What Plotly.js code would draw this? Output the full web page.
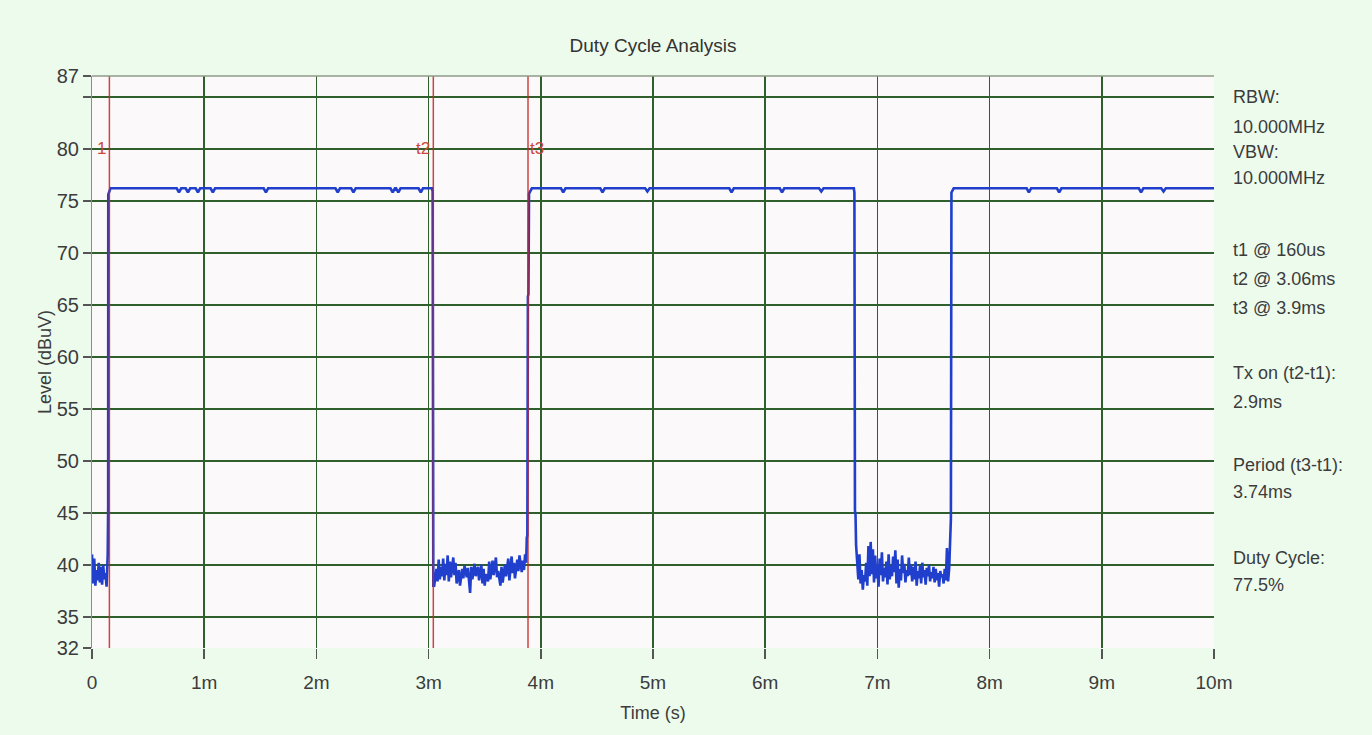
<!DOCTYPE html>
<html><head><meta charset="utf-8">
<script src="https://cdn.plot.ly/plotly-3.0.1.min.js"></script>
<style>html,body{margin:0;padding:0;background:#edfbed;}#chart{width:1372px;height:735px;}</style>
</head><body><div id="chart"></div>
<script>
// ---- Data (time in ms, level in dBuV) ----
const noise1Time  = [0, 0.01, 0.02, 0.03, 0.04, 0.05, 0.06, 0.07, 0.08, 0.09, 0.10, 0.11, 0.12, 0.13, 0.14];
const noise1Level = [41.0, 38.2, 40.6, 38.0, 39.5, 38.5, 40.2, 38.3, 39.8, 38.1, 40.0, 38.6, 39.2, 37.9, 41.0];

const rise1Time  = [0.142, 0.144, 0.145, 0.165];
const rise1Level = [45.5, 45.6, 75.6, 76.2];

const plateau1Time  = [0.165, 0.755, 0.775, 0.795, 0.835, 0.855, 0.875, 0.924, 0.944, 0.964, 1.057, 1.077, 1.097,
                       1.53, 1.55, 1.57, 2.17, 2.19, 2.21, 2.31, 2.33, 2.35, 2.66, 2.68, 2.70, 2.71, 2.73, 2.75,
                       2.91, 2.93, 2.95, 3.03];
const plateau1Level = [76.2, 76.2, 75.8, 76.2, 76.2, 75.8, 76.2, 76.2, 75.8, 76.2, 76.2, 75.8, 76.2,
                       76.2, 75.8, 76.2, 76.2, 75.8, 76.2, 76.2, 75.8, 76.2, 76.2, 75.8, 76.2, 76.2, 75.8, 76.2,
                       76.2, 75.8, 76.2, 76.2];

const fall1Time  = [3.036, 3.042];
const fall1Level = [75.9, 38.0];

const noise2Time  = [3.05, 3.07, 3.08, 3.09, 3.10, 3.11, 3.12, 3.13, 3.14, 3.15, 3.16, 3.17, 3.18, 3.19, 3.20, 3.22,
                     3.23, 3.24, 3.25, 3.27, 3.28, 3.30, 3.31, 3.32, 3.34, 3.35, 3.37, 3.38, 3.39, 3.41, 3.42, 3.44,
                     3.45, 3.47, 3.48, 3.49, 3.50, 3.51, 3.53, 3.54, 3.55, 3.57, 3.58, 3.60, 3.61, 3.62, 3.64, 3.65,
                     3.66, 3.68, 3.69, 3.71, 3.72, 3.74, 3.75, 3.76, 3.77, 3.79, 3.80, 3.81, 3.83, 3.84, 3.85, 3.86, 3.87];
const noise2Level = [38.0, 39.6, 38.4, 40.5, 38.6, 39.8, 38.9, 40.6, 38.5, 40.1, 39.0, 40.9, 38.4, 40.3, 38.8, 40.7,
                     39.0, 40.2, 38.2, 39.5, 38.0, 39.6, 38.7, 39.9, 38.8, 39.7, 37.3, 39.8, 38.6, 40.1, 38.9, 39.8,
                     38.5, 40.0, 38.2, 39.6, 38.0, 39.1, 38.4, 40.3, 38.6, 40.4, 39.0, 40.7, 38.8, 39.4, 38.0, 39.8,
                     38.3, 40.0, 38.9, 40.6, 38.5, 40.8, 39.2, 40.2, 38.7, 40.5, 39.4, 40.9, 39.3, 40.4, 39.5, 41.0, 40.2];

const rise2Time  = [3.875, 3.88, 3.885, 3.89, 3.895, 3.92];
const rise2Level = [42.6, 42.8, 65.8, 66.0, 75.7, 76.2];

const plateau2Time  = [3.92, 4.18, 4.20, 4.22, 4.53, 4.55, 4.57, 4.93, 4.95, 4.97, 5.68, 5.70, 5.72,
                       6.13, 6.15, 6.17, 6.48, 6.50, 6.52, 6.79];
const plateau2Level = [76.2, 76.2, 75.8, 76.2, 76.2, 75.8, 76.2, 76.2, 75.9, 76.2, 76.2, 75.8, 76.2,
                       76.2, 75.8, 76.2, 76.2, 75.9, 76.2, 76.2];

const fall2Time  = [6.795, 6.80, 6.805, 6.81];
const fall2Level = [75.8, 45.2, 44.8, 41.9];

const noise3Time  = [6.82, 6.83, 6.84, 6.85, 6.86, 6.87, 6.88, 6.89, 6.90, 6.91, 6.92, 6.93, 6.94, 6.95, 6.96, 6.97,
                     6.98, 6.99, 7.00, 7.01, 7.02, 7.03, 7.04, 7.05, 7.06, 7.07, 7.08, 7.09, 7.10, 7.11, 7.12, 7.13,
                     7.14, 7.15, 7.16, 7.17, 7.18, 7.19, 7.20, 7.21, 7.22, 7.23, 7.24, 7.25, 7.26, 7.27, 7.28, 7.29,
                     7.30, 7.31, 7.32, 7.33, 7.34, 7.35, 7.36, 7.37, 7.38, 7.39, 7.40, 7.41, 7.42, 7.43, 7.44, 7.45,
                     7.46, 7.47, 7.48, 7.49, 7.50, 7.51, 7.52, 7.53, 7.54, 7.55, 7.56, 7.57, 7.58, 7.59, 7.60, 7.61,
                     7.62, 7.63, 7.64];
const noise3Level = [40.5, 38.6, 41.0, 38.2, 39.5, 37.6, 39.0, 38.4, 40.2, 38.0, 41.8, 38.9, 42.2, 39.1, 41.5, 38.3,
                     40.9, 38.7, 39.8, 37.9, 40.6, 39.0, 41.2, 38.4, 39.7, 38.8, 40.3, 38.1, 41.0, 38.6, 39.9, 38.9,
                     40.8, 39.3, 41.4, 38.2, 40.5, 37.8, 39.6, 38.5, 40.9, 39.2, 40.1, 38.3, 39.5, 38.9, 40.7, 39.0,
                     40.0, 38.4, 39.8, 38.6, 40.3, 38.0, 39.4, 38.7, 39.9, 38.2, 40.2, 38.8, 39.5, 38.1, 39.7, 38.9,
                     40.0, 38.4, 39.3, 38.7, 39.8, 38.3, 39.6, 38.5, 39.2, 37.9, 39.4, 38.8, 39.1, 38.2, 39.6, 38.5,
                     41.6, 38.4, 39.7];

const rise3Time  = [7.645, 7.65, 7.655, 7.66, 7.68];
const rise3Level = [41.2, 44.2, 44.4, 75.8, 76.2];

const plateau3Time  = [7.68, 8.33, 8.35, 8.37, 8.60, 8.62, 8.64, 9.33, 9.35, 9.37, 9.53, 9.55, 9.57, 10.0];
const plateau3Level = [76.2, 76.2, 75.8, 76.2, 76.2, 75.8, 76.2, 76.2, 75.8, 76.2, 76.2, 75.9, 76.2, 76.2];

const markerTimes  = [0.155, 3.042, 3.886];
const markerLabels = ['1', 't2', 't3'];

const xTickVals  = [0, 1, 2, 3, 4, 5, 6, 7, 8, 9, 10];
const xTickText  = ['0', '1m', '2m', '3m', '4m', '5m', '6m', '7m', '8m', '9m', '10m'];
const xGridVals  = [1, 2, 3, 4, 5, 6, 7, 8, 9];
const yTickVals  = [32, 35, 40, 45, 50, 55, 60, 65, 70, 75, 80, 85, 87];
const yTickText  = ['32', '35', '40', '45', '50', '55', '60', '65', '70', '75', '80', '', '87'];
const yGridVals  = [35, 40, 45, 50, 55, 60, 65, 70, 75, 80, 85];
const yRange = [32, 87];
const xRange = [0, 10];

const infoLines = ['RBW:', '10.000MHz', 'VBW:', '10.000MHz', 't1 @ 160us', 't2 @ 3.06ms', 't3 @ 3.9ms',
                   'Tx on (t2-t1):', '2.9ms', 'Period (t3-t1):', '3.74ms', 'Duty Cycle:', '77.5%'];
const infoPixelY = [97, 127, 152, 178, 250, 279, 308, 373, 402, 465, 492, 558, 585];

// ---- Build ----
const time = [].concat(noise1Time, rise1Time, plateau1Time, fall1Time, noise2Time, rise2Time,
                       plateau2Time, fall2Time, noise3Time, rise3Time, plateau3Time);
const level = [].concat(noise1Level, rise1Level, plateau1Level, fall1Level, noise2Level, rise2Level,
                        plateau2Level, fall2Level, noise3Level, rise3Level, plateau3Level);

const FONT = 'Liberation Sans, Arial, sans-serif';
const TXT = '#3c3c3c';
const GRID = '#2f5f2a';

const traces = [{
  x: time, y: level, type: 'scatter', mode: 'lines',
  line: {color: '#1f3fcc', width: 2.6, shape: 'linear'},
  hoverinfo: 'x+y', showlegend: false, xaxis: 'x', yaxis: 'y'
}];
markerTimes.forEach(t => {
  traces.push({x: [t, t], y: yRange, type: 'scatter', mode: 'lines',
    line: {color: 'rgba(200,35,35,0.85)', width: 1.5}, showlegend: false, hoverinfo: 'skip',
    xaxis: 'x', yaxis: 'y'});
});
traces.push({x: [], y: [], type: 'scatter', mode: 'lines', xaxis: 'x2', yaxis: 'y2', showlegend: false, hoverinfo: 'skip'});

const margin = {l: 92, r: 158, t: 76, b: 87};
const H = 735, plotH = H - margin.t - margin.b;

const annotations = [];
markerTimes.forEach((t, i) => {
  annotations.push({x: t, y: 80, xref: 'x', yref: 'y', text: markerLabels[i], showarrow: false,
    xanchor: i === 2 ? 'left' : 'right', yanchor: 'middle', xshift: i === 2 ? 0 : -1,
    font: {family: FONT, size: 17, color: '#c84a3c'}});
});
infoLines.forEach((s, i) => {
  annotations.push({x: 1, y: (H - margin.b - infoPixelY[i]) / plotH, xref: 'paper', yref: 'paper',
    text: s, showarrow: false, xanchor: 'left', yanchor: 'middle', xshift: 17,
    font: {family: FONT, size: 18, color: TXT}});
});

const layout = {
  width: 1372, height: 735,
  paper_bgcolor: '#edfbed', plot_bgcolor: '#fbf9fa',
  margin: margin,
  font: {family: FONT, size: 19, color: TXT},
  title: {text: 'Duty Cycle Analysis', font: {family: FONT, size: 19, color: '#333'},
          x: 0.5, xref: 'paper', y: 1 - 45 / 735, yref: 'container', yanchor: 'middle'},
  xaxis: {range: xRange, tickvals: xGridVals, showticklabels: false, ticks: '', showgrid: true,
          gridcolor: GRID, gridwidth: 1.5, zeroline: false, showline: false, fixedrange: true},
  yaxis: {range: yRange, tickvals: yGridVals, showticklabels: false, ticks: '', showgrid: true,
          gridcolor: GRID, gridwidth: 1.5, zeroline: false, showline: true, linecolor: '#8c8c8c',
          linewidth: 1.5, fixedrange: true},
  xaxis2: {overlaying: 'x', anchor: 'y2', side: 'bottom', range: xRange, tickvals: xTickVals, ticktext: xTickText,
           ticks: 'outside', ticklen: 10, tickwidth: 1.5, tickcolor: '#555', showgrid: false, zeroline: false,
           showline: false, ticklabelstandoff: 7, tickfont: {family: FONT, size: 19, color: TXT},
           title: {text: 'Time (s)', font: {family: FONT, size: 18, color: TXT}, standoff: 14}},
  yaxis2: {overlaying: 'y', anchor: 'x2', side: 'left', range: yRange, tickvals: yTickVals, ticktext: yTickText,
           ticks: 'outside', ticklen: 8, tickwidth: 1.5, tickcolor: '#555', showgrid: false, zeroline: false,
           showline: false, tickfont: {family: FONT, size: 20, color: TXT},
           title: {text: 'Level (dBuV)', font: {family: FONT, size: 18, color: TXT}, standoff: 0}},
  shapes: [{type: 'line', xref: 'paper', yref: 'paper', x0: 0, x1: 1, y0: 1, y1: 1,
            line: {color: '#8e9a88', width: 1.5}}],
  annotations: annotations
};

Plotly.newPlot('chart', traces, layout, {displayModeBar: false, staticPlot: true});
</script></body></html>
